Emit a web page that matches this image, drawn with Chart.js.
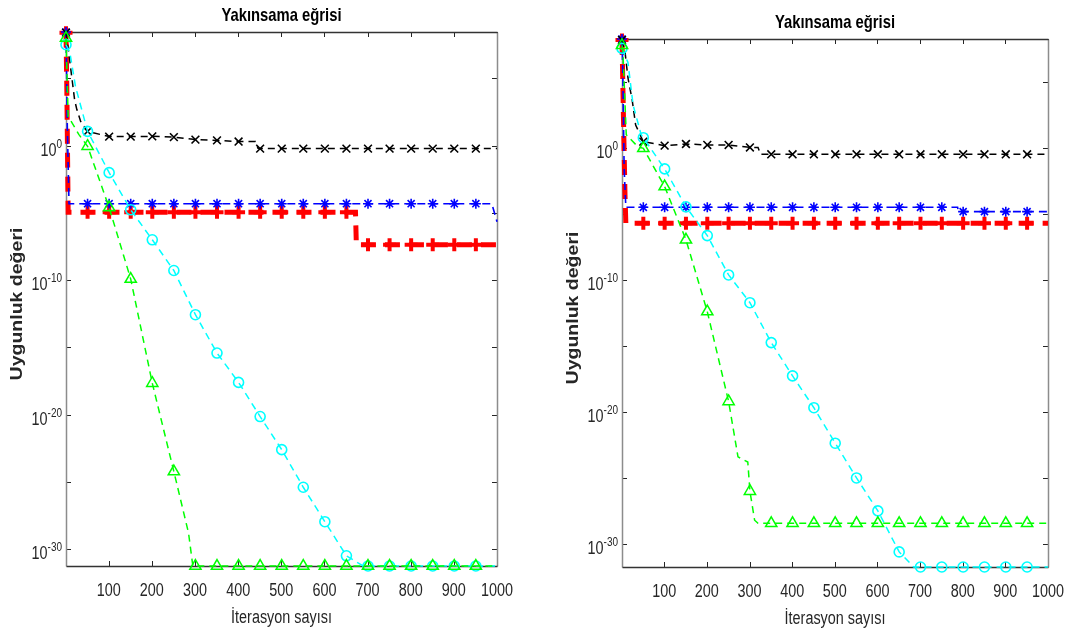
<!DOCTYPE html>
<html>
<head>
<meta charset="utf-8">
<script src="https://cdn.jsdelivr.net/npm/chart.js@4.4.0/dist/chart.umd.min.js"></script>
<style>
  body { margin: 0; background: #fff; }
  #wrap { position: relative; width: 1070px; height: 640px; }
  canvas { position: absolute; top: 0; }
</style>
</head>
<body>
<div id="wrap">
  <canvas id="left" width="540" height="640" style="left:0"></canvas>
  <canvas id="right" width="530" height="640" style="left:540px"></canvas>
</div>
<script>
// iterations that carry a marker (MATLAB MarkerIndices 1:50:1000)
const markerIts = [1, 51, 101, 151, 201, 251, 301, 351, 401, 451, 501, 551, 601, 651, 701, 751, 801, 851, 901, 951];
const xTicks = [100, 200, 300, 400, 500, 600, 700, 800, 900, 1000];
const yTicks = [1e-30, 1e-25, 1e-20, 1e-15, 1e-10, 1e-5, 1, 1e5];
const yLabelExps = [-30, -20, -10, 0];

const titleText = "Yakınsama eğrisi";
const xLabelText = "İterasyon sayısı";
const yLabelText = "Uygunluk değeri";

// ---- left plot ----
const leftYMin = 5.6e-32, leftYMax = 2.8e8;

const leftBlackIt = [1, 5, 21, 26, 35, 51, 101, 151, 201, 251, 301, 351, 401, 440, 446, 451, 501, 551, 601, 651, 701, 751, 801, 851, 901, 951, 1000];
const leftBlackVal = [2.5e8, 3.2e7, 2.5e3, 5e2, 63, 11.5, 4.7, 4.7, 4.9, 4.3, 2.8, 2.45, 2.0, 2.0, 0.63, 0.6, 0.6, 0.6, 0.6, 0.6, 0.6, 0.6, 0.6, 0.6, 0.6, 0.6, 0.6];

const leftBlueIt = [1, 4, 8, 51, 101, 151, 201, 251, 301, 351, 401, 451, 501, 551, 601, 651, 701, 751, 801, 851, 901, 951, 988, 1000];
const leftBlueVal = [2.8e8, 30, 4.8e-5, 4.8e-5, 4.8e-5, 4.8e-5, 4.8e-5, 4.8e-5, 4.8e-5, 4.8e-5, 4.8e-5, 4.8e-5, 4.8e-5, 4.8e-5, 4.8e-5, 4.8e-5, 4.8e-5, 4.8e-5, 4.8e-5, 4.8e-5, 4.8e-5, 4.8e-5, 4.8e-5, 2.2e-6];

const leftRedIt = [1, 3, 6, 51, 101, 151, 201, 251, 301, 351, 401, 451, 501, 551, 601, 651, 672, 674, 701, 751, 801, 851, 901, 951, 1000];
const leftRedVal = [2.5e8, 1e4, 1.1e-5, 1.1e-5, 1.1e-5, 1.1e-5, 1.1e-5, 1.1e-5, 1.1e-5, 1.1e-5, 1.1e-5, 1.1e-5, 1.1e-5, 1.1e-5, 1.1e-5, 1.1e-5, 1.1e-5, 4.3e-8, 4.3e-8, 4.3e-8, 4.3e-8, 4.3e-8, 4.3e-8, 4.3e-8, 4.3e-8];

const leftGreenIt = [1, 6, 31, 51, 101, 151, 201, 251, 285, 295, 301, 351, 401, 451, 501, 551, 601, 651, 701, 751, 801, 851, 901, 951, 1000];
const leftGreenVal = [1e8, 150, 6.6, 0.9, 2.5e-5, 1.2e-10, 2.2e-18, 5.9e-25, 1.6e-29, 5.6e-32, 5.6e-32, 5.6e-32, 5.6e-32, 5.6e-32, 5.6e-32, 5.6e-32, 5.6e-32, 5.6e-32, 5.6e-32, 5.6e-32, 5.6e-32, 5.6e-32, 5.6e-32, 5.6e-32, 5.6e-32];

const leftCyanIt = [1, 10, 23, 51, 101, 151, 201, 251, 301, 351, 401, 451, 501, 551, 601, 651, 690, 701, 751, 801, 851, 901, 951, 1000];
const leftCyanVal = [3.2e7, 8e6, 2.5e4, 11.5, 9.8e-3, 1.7e-5, 1e-7, 5.2e-10, 2.7e-13, 3.8e-16, 2.5e-18, 7.2e-21, 2.5e-23, 4e-26, 1.1e-28, 3.2e-31, 5.6e-32, 5.6e-32, 5.6e-32, 5.6e-32, 5.6e-32, 5.6e-32, 5.6e-32, 5.6e-32];

// ---- right plot ----
const rightYMin = 1.8e-32, rightYMax = 1.8e8;

const rightBlackIt = [1, 8, 15, 25, 33, 51, 101, 151, 201, 251, 301, 320, 326, 351, 401, 451, 501, 551, 601, 651, 701, 751, 801, 851, 901, 951, 1000];
const rightBlackVal = [1.5e8, 2e7, 2e5, 4e3, 55, 3, 1.5, 2, 1.7, 1.7, 1.1, 1.1, 0.33, 0.33, 0.33, 0.33, 0.33, 0.33, 0.33, 0.33, 0.33, 0.33, 0.33, 0.33, 0.33, 0.33, 0.33];

const rightBlueIt = [1, 3, 6, 10, 51, 101, 151, 201, 251, 301, 351, 401, 451, 501, 551, 601, 651, 701, 751, 788, 790, 801, 851, 901, 951, 1000];
const rightBlueVal = [1.8e8, 3e5, 0.03, 3.2e-5, 3.2e-5, 3.2e-5, 3.2e-5, 3.2e-5, 3.2e-5, 3.2e-5, 3.2e-5, 3.2e-5, 3.2e-5, 3.2e-5, 3.2e-5, 3.2e-5, 3.2e-5, 3.2e-5, 3.2e-5, 3.2e-5, 1.5e-5, 1.5e-5, 1.5e-5, 1.5e-5, 1.5e-5, 1.5e-5];

const rightRedIt = [1, 4, 8, 10, 51, 101, 151, 201, 251, 301, 351, 401, 451, 501, 551, 601, 651, 701, 751, 801, 851, 901, 951, 1000];
const rightRedVal = [1.5e8, 1e3, 3e-4, 2e-6, 2e-6, 2e-6, 2e-6, 2e-6, 2e-6, 2e-6, 2e-6, 2e-6, 2e-6, 2e-6, 2e-6, 2e-6, 2e-6, 2e-6, 2e-6, 2e-6, 2e-6, 2e-6, 2e-6, 2e-6];

const rightGreenIt = [1, 3, 11, 23, 38, 51, 101, 151, 201, 251, 273, 296, 301, 312, 320, 351, 401, 451, 501, 551, 601, 651, 701, 751, 801, 851, 901, 951, 1000];
const rightGreenVal = [6e7, 2.5e7, 10, 4, 1.26, 0.95, 1.2e-3, 1.1e-7, 4e-13, 6.3e-20, 4e-24, 1.6e-24, 1e-26, 6.3e-29, 3.7e-29, 3.7e-29, 3.7e-29, 3.7e-29, 3.7e-29, 3.7e-29, 3.7e-29, 3.7e-29, 3.7e-29, 3.7e-29, 3.7e-29, 3.7e-29, 3.7e-29, 3.7e-29, 3.7e-29];

const rightCyanIt = [1, 15, 27, 46, 51, 101, 151, 201, 251, 301, 351, 401, 451, 501, 551, 601, 651, 685, 701, 751, 801, 851, 901, 951, 1000];
const rightCyanVal = [3.5e7, 3e6, 1.8e3, 10, 6, 2.6e-2, 3.5e-5, 2.3e-7, 2.4e-10, 1.9e-12, 1.8e-15, 5.4e-18, 2.1e-20, 4.3e-23, 1e-25, 3.2e-28, 2.5e-31, 1.8e-32, 1.8e-32, 1.8e-32, 1.8e-32, 1.8e-32, 1.8e-32, 1.8e-32, 1.8e-32];

const SQUEEZE = 0.8;
const FONT = '"Liberation Sans", Arial, sans-serif';

const styles = {
  black: { color: "#000000", width: 1.5, dash: [7, 5], point: "crossRot", radius: 5.5, pw: 1.6, order: 3 },
  blue: { color: "#0000ff", width: 1.6, dash: [8, 5], point: "star", radius: 5, pw: 1.6, order: 4 },
  red: { color: "#ff0000", width: 5, dash: [15, 9], point: "cross", radius: 6.5, pw: 4, order: 5 },
  green: { color: "#00ff00", width: 1.5, dash: [7, 5], point: "triangle", radius: 6.5, pw: 1.5, order: 1 },
  cyan: { color: "#00ffff", width: 1.5, dash: [7, 5], point: "circle", radius: 5, pw: 1.6, order: 2 },
};

function series(its, vals, s) {
  return {
    data: its.map((x, i) => ({ x: x, y: vals[i] })),
    borderColor: s.color,
    borderWidth: s.width,
    borderDash: s.dash,
    borderCapStyle: "butt",
    pointStyle: s.point,
    pointRadius: (ctx) => (ctx.raw && markerIts.includes(ctx.raw.x) ? s.radius : 0),
    pointBorderColor: s.color,
    pointBackgroundColor: "rgba(0,0,0,0)",
    pointBorderWidth: s.pw,
    fill: false,
    tension: 0,
    clip: false,
    order: s.order,
  };
}

function squeezed(ctx, str, x, y, align, font) {
  ctx.save();
  ctx.font = font;
  ctx.textAlign = align;
  ctx.textBaseline = "alphabetic";
  ctx.translate(x, y);
  ctx.scale(SQUEEZE, 1);
  ctx.fillText(str, 0, 0);
  ctx.restore();
}

function seg(ctx, x1, y1, x2, y2, color) {
  ctx.strokeStyle = color;
  ctx.beginPath();
  ctx.moveTo(x1, y1);
  ctx.lineTo(x2, y2);
  ctx.stroke();
}

const frame = {
  id: "frame",
  beforeDatasetsDraw(chart) {
    const { ctx, chartArea: a, scales } = chart;
    ctx.save();
    ctx.lineWidth = 1;
    xTicks.forEach((v) => {
      const px = Math.round(scales.x.getPixelForValue(v)) + 0.5;
      seg(ctx, px, a.bottom, px, a.bottom - 5, "#262626");
      seg(ctx, px, a.top, px, a.top + 5, "#262626");
    });
    yTicks.forEach((v) => {
      const py = Math.round(scales.y.getPixelForValue(v)) + 0.5;
      seg(ctx, a.left, py, a.left + 5, py, "#262626");
      seg(ctx, a.right, py, a.right - 5, py, "#262626");
    });
    const l = Math.round(a.left) + 0.5, r = Math.round(a.right) + 0.5;
    const t = Math.round(a.top) + 0.5, b = Math.round(a.bottom) + 0.5;
    ctx.lineWidth = 1.5;
    seg(ctx, l, t, l, b, "#8c8c8c");
    seg(ctx, r, t, r, b, "#8c8c8c");
    seg(ctx, l, t, r, t, "#333333");
    seg(ctx, l, b, r, b, "#333333");
    ctx.restore();
  },
  afterDraw(chart) {
    const { ctx, chartArea: a, scales } = chart;
    const cx = (a.left + a.right) / 2;
    ctx.save();
    ctx.fillStyle = "#262626";
    xTicks.forEach((v) => {
      squeezed(ctx, String(v), scales.x.getPixelForValue(v), a.bottom + 30, "center", "18px " + FONT);
    });
    yLabelExps.forEach((e) => {
      const py = scales.y.getPixelForValue(Math.pow(10, e));
      const right = a.left - 4;
      const supFont = "12.5px " + FONT;
      ctx.font = supFont;
      const supW = ctx.measureText(String(e)).width * SQUEEZE;
      squeezed(ctx, String(e), right, py + 2, "right", supFont);
      squeezed(ctx, "10", right - supW, py + 10, "right", "18px " + FONT);
    });
    squeezed(ctx, xLabelText, cx, a.bottom + 57, "center", "18px " + FONT);
    ctx.fillStyle = "#000000";
    squeezed(ctx, titleText, cx, a.top - 11, "center", "bold 18.5px " + FONT);

    // rotated y-axis label
    ctx.fillStyle = "#262626";
    ctx.save();
    ctx.translate(a.left - 48, (a.top + a.bottom) / 2 + 5);
    ctx.rotate(-Math.PI / 2);
    ctx.scale(1, SQUEEZE);
    ctx.font = "bold 19.5px " + FONT;
    ctx.textAlign = "center";
    ctx.textBaseline = "middle";
    ctx.fillText(yLabelText, 0, 0);
    ctx.restore();
    ctx.restore();
  },
};

function makeChart(id, datasets, yMin, yMax, pad) {
  return new Chart(document.getElementById(id), {
    type: "line",
    data: { datasets: datasets },
    options: {
      responsive: false,
      animation: false,
      devicePixelRatio: 1,
      events: [],
      layout: { padding: pad },
      plugins: { legend: { display: false }, tooltip: { enabled: false } },
      scales: {
        x: { type: "linear", min: 1, max: 1000, display: false },
        y: { type: "logarithmic", min: yMin, max: yMax, display: false },
      },
    },
    plugins: [frame],
  });
}

makeChart("left", [
  series(leftBlackIt, leftBlackVal, styles.black),
  series(leftBlueIt, leftBlueVal, styles.blue),
  series(leftRedIt, leftRedVal, styles.red),
  series(leftGreenIt, leftGreenVal, styles.green),
  series(leftCyanIt, leftCyanVal, styles.cyan),
], leftYMin, leftYMax, { left: 66, right: 43, top: 32, bottom: 74 });

makeChart("right", [
  series(rightBlackIt, rightBlackVal, styles.black),
  series(rightBlueIt, rightBlueVal, styles.blue),
  series(rightRedIt, rightRedVal, styles.red),
  series(rightGreenIt, rightGreenVal, styles.green),
  series(rightCyanIt, rightCyanVal, styles.cyan),
], rightYMin, rightYMax, { left: 82, right: 22, top: 39, bottom: 73 });
</script>
</body>
</html>
